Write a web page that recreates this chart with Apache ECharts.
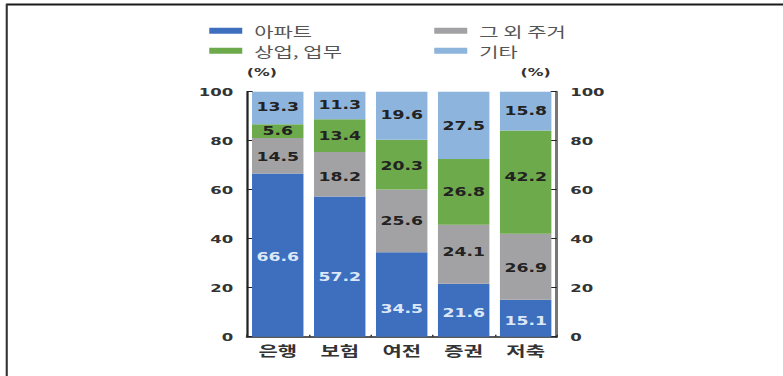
<!DOCTYPE html>
<html>
<head>
<meta charset="utf-8">
<script src="https://cdn.jsdelivr.net/npm/echarts@6/dist/echarts.min.js"></script>
<style>
  html, body { margin: 0; padding: 0; background: #fff; overflow: hidden; }
  /* chart is laid out narrow and widened horizontally */
  #chart { width: 522px; height: 376px; transform: scaleX(1.5); transform-origin: 0 0; }
</style>
</head>
<body>
<div id="chart"></div>
<script>
// 업권별 부동산 담보 유형 비중 (%)
const categories = ['은행', '보험', '여전', '증권', '저축'];
const seriesNames = ['아파트', '그 외 주거', '상업, 업무', '기타'];
const apartment    = [66.6, 57.2, 34.5, 21.6, 15.1];
const otherHousing = [14.5, 18.2, 25.6, 24.1, 26.9];
const commercial   = [5.6, 13.4, 20.3, 26.8, 42.2];
const others       = [13.3, 11.3, 19.6, 27.5, 15.8];
const axisMin = 0, axisMax = 100, axisStep = 20;

const values = [apartment, otherHousing, commercial, others];
const colors = ['#3e6fbf', '#a2a2a4', '#6caa4b', '#8db4dd'];
const labelColors = ['#dce8f7', '#222', '#222', '#222'];
// vertical nudges for a few segment labels (px)
const labelShift = [
  [2, 10, 14, 2, 2],
  [1, 2, 0, -3, 1],
  [0, 0, 1, 0, -5],
  [-1, -1, -1, 0, 0]
];

const series = values.map((vals, si) => ({
  name: seriesNames[si],
  type: 'bar',
  stack: 'total',
  barWidth: '83%',
  itemStyle: { color: colors[si] },
  data: vals.map((v, i) => ({
    value: v,
    label: { offset: [0, labelShift[si][i]] }
  })),
  label: {
    show: true,
    position: 'inside',
    formatter: p => p.value.toFixed(1),
    color: labelColors[si],
    fontFamily: 'DejaVu Sans',
    fontWeight: 'bold',
    fontSize: 11.5
  }
}));

const tickLabel = {
  fontFamily: 'DejaVu Sans',
  fontWeight: 'bold',
  fontSize: 11,
  color: '#333'
};

const legendText = {
  fontFamily: 'Noto Sans CJK KR',
  fontSize: 14,
  color: '#555',
  lineHeight: 14,
  padding: [0, 0, 0, 3]
};

const chart = echarts.init(document.getElementById('chart'), null, { renderer: 'svg' });
chart.setOption({
  animation: false,
  backgroundColor: '#fff',
  grid: { left: 164.5, right: 150.9, top: 91.7, bottom: 39.3 },
  legend: [
    {
      orient: 'vertical', left: 134.5, top: 18.7, itemGap: 6,
      itemWidth: 22, itemHeight: 6, icon: 'rect',
      data: [seriesNames[0], seriesNames[2]],
      textStyle: legendText, selectedMode: false
    },
    {
      orient: 'vertical', left: 284.5, top: 18.7, itemGap: 6,
      itemWidth: 22, itemHeight: 6, icon: 'rect',
      data: [seriesNames[1], seriesNames[3]],
      textStyle: legendText, selectedMode: false
    }
  ],
  xAxis: {
    type: 'category',
    data: categories,
    boundaryGap: true,
    axisLine: { lineStyle: { color: '#222', width: 1.5 } },
    axisTick: { show: true, inside: true, length: 2, lineStyle: { color: '#333' } },
    axisLabel: {
      margin: 6,
      fontFamily: 'Noto Sans CJK KR',
      fontWeight: 'bold',
      fontSize: 14,
      color: '#333'
    }
  },
  yAxis: [
    {
      type: 'value', min: axisMin, max: axisMax, interval: axisStep,
      position: 'left',
      name: '(%)', nameLocation: 'end', nameGap: 14,
      nameTextStyle: { align: 'left', fontFamily: 'DejaVu Sans', fontWeight: 'bold', fontSize: 10.5, color: '#333' },
      axisLine: { show: true, lineStyle: { color: '#222', width: 1.5 } },
      axisTick: { show: true, inside: true, length: 4, lineStyle: { color: '#222' } },
      axisLabel: Object.assign({ margin: 9 }, tickLabel),
      splitLine: { show: false }
    },
    {
      type: 'value', min: axisMin, max: axisMax, interval: axisStep,
      position: 'right',
      name: '(%)', nameLocation: 'end', nameGap: 14,
      nameTextStyle: { align: 'right', padding: [0, 4, 0, 0], fontFamily: 'DejaVu Sans', fontWeight: 'bold', fontSize: 10.5, color: '#333' },
      axisLine: { show: true, lineStyle: { color: '#777', width: 2 } },
      axisTick: { show: true, inside: true, length: 4, lineStyle: { color: '#222' } },
      axisLabel: Object.assign({ margin: 9 }, tickLabel),
      splitLine: { show: false }
    }
  ],
  graphic: [
    { type: 'line', shape: { x1: 4, y1: 4.5, x2: 522, y2: 4.5 }, style: { stroke: '#1a1a1a', lineWidth: 1.8 } },
    { type: 'line', shape: { x1: 4.5, y1: 4, x2: 4.5, y2: 376 }, style: { stroke: '#333', lineWidth: 1.4 } }
  ],
  series: series
});
</script>
</body>
</html>
